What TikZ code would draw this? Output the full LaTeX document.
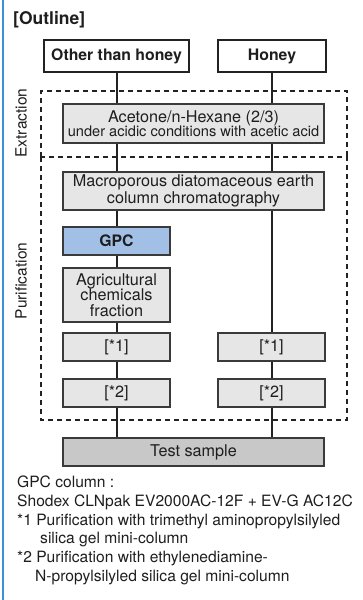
\documentclass[tikz,border=0pt]{standalone}
\usepackage{fontspec}
\setmainfont{TeX Gyre Heros}
\definecolor{edgec}{HTML}{222222}
\definecolor{boxedge}{HTML}{3A3A3A}
\definecolor{txtc}{HTML}{1E1E1E}
\definecolor{lightfill}{HTML}{E6E6E6}
\definecolor{darkfill}{HTML}{C8C8C8}
\definecolor{gpcfill}{HTML}{A2C0E6}
\definecolor{sideblue}{HTML}{3E8FD6}
\tikzset{
  srcbox/.style={draw=edgec, line width=2.4pt, fill=white, inner sep=0pt, text=txtc,
    font=\fontsize{15.8}{18}\selectfont\bfseries},
  procbox/.style={draw=boxedge, line width=1.3pt, fill=lightfill, inner sep=0pt, text=txtc,
    align=center, font=\fontsize{16.2}{15.5}\selectfont},
  link/.style={draw=edgec, line width=2pt},
  dashbox/.style={draw=edgec, line width=2pt, dash pattern=on 5pt off 4pt},
  sidelabel/.style={rotate=90, inner sep=0pt, text=txtc, font=\fontsize{15.5}{18}\selectfont},
  note/.style={anchor=base west, inner sep=0pt, text=txtc, font=\fontsize{15.6}{18}\selectfont},
}
\begin{document}
\begin{tikzpicture}[x=1pt, y=-1pt]
\useasboundingbox (0,0) rectangle (363,600);
\draw[sideblue, line width=1.8pt] (3,0) -- (3,600);

\node[anchor=base west, inner sep=0pt, text=txtc, font=\fontsize{17.5}{20}\selectfont\bfseries] (title) at (13,24) {[Outline]};

% dashed regions
\draw[dashbox] (41,157) -- (41,91) -- (347,91) -- (347,157);
\draw[dashbox] (41,157) rectangle (347,420);
\node[sidelabel] (ext) at (21,123) {Extraction};
\node[sidelabel] (pur) at (21,281) {Purification};

% boxes
\node[srcbox, minimum width=145pt, minimum height=32pt] (other) at (116.5,56) {Other than honey};
\node[srcbox, minimum width=108pt, minimum height=32pt] (honey) at (272,56) {Honey};
\node[procbox, minimum width=261pt, minimum height=39pt] (acet) at (193.5,123.5)
  {Acetone/n-Hexane (2/3)\\[-1pt]{\fontsize{14.6}{15}\selectfont under acidic conditions with acetic acid}};
\node[procbox, minimum width=261pt, minimum height=38pt] (macro) at (193.5,191)
  {Macroporous diatomaceous earth\\[1pt]column chromatography};
\node[procbox, fill=gpcfill, minimum width=107pt, minimum height=28pt, font=\fontsize{15.8}{18}\selectfont\bfseries] (gpc) at (116.5,241) {GPC};
\node[procbox, minimum width=107pt, minimum height=54pt] (agri) at (116.5,295)
  {Agricultural\\chemicals\\fraction};
\node[procbox, minimum width=107pt, minimum height=28pt] (la) at (116.5,347) {[*1]};
\node[procbox, minimum width=107pt, minimum height=28pt] (ra) at (271.5,347) {[*1]};
\node[procbox, minimum width=107pt, minimum height=28pt] (lb) at (116.5,393) {[*2]};
\node[procbox, minimum width=107pt, minimum height=28pt] (rb) at (271.5,393) {[*2]};
\node[procbox, fill=darkfill, minimum width=261pt, minimum height=28pt] (test) at (193.5,452) {Test sample};

% connectors
\draw[link] (other.south) -- (other.south |- acet.north);
\draw[link] (honey.south) -- (honey.south |- acet.north);
\draw[link] (other.south |- acet.south) -- (other.south |- macro.north);
\draw[link] (honey.south |- acet.south) -- (honey.south |- macro.north);
\draw[link] (gpc.north |- macro.south) -- (gpc.north);
\draw[link] (gpc.south) -- (agri.north);
\draw[link] (agri.south) -- (la.north);
\draw[link] (la.south) -- (lb.north);
\draw[link] (lb.south) -- (lb.south |- test.north);
\draw[link] (ra.north |- macro.south) -- (ra.north);
\draw[link] (ra.south) -- (rb.north);
\draw[link] (rb.south) -- (rb.south |- test.north);

% notes
\node[note] (n1) at (17,487) {GPC column :};
\node[note] (n2) at (17,506) {Shodex CLNpak EV2000AC-12F + EV-G AC12C};
\node[note] (n3) at (17,525) {*1 Purification with trimethyl aminopropylsilyled};
\node[note] (n4) at (40,543.5) {silica gel mini-column};
\node[note] (n5) at (17,562) {*2 Purification with ethylenediamine-};
\node[note] (n6) at (35,581) {N-propylsilyled silica gel mini-column};
\end{tikzpicture}
\end{document}
